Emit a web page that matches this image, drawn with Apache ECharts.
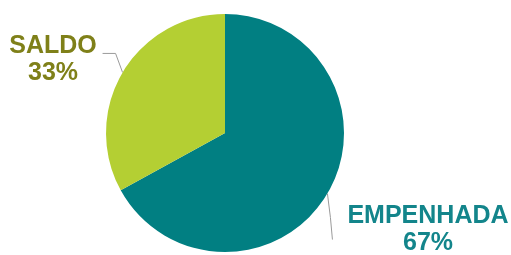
<!DOCTYPE html>
<html>
<head>
<meta charset="UTF-8">
<title>pie</title>
<script src="https://cdn.jsdelivr.net/npm/echarts@6/dist/echarts.min.js"></script>
<style>
  html, body { margin: 0; padding: 0; background: #fff; }
  #main { width: 511px; height: 255px; }
</style>
</head>
<body>
<div id="main"></div>
<script type="text/javascript">
    // dados
    var categorias = ['EMPENHADA', 'SALDO'];
    var valores = [67, 33];
    var cores = ['#017f82', '#b4cf33'];
    var coresTexto = ['#13858b', '#7f8019'];
    // posicao dos rotulos (centro do bloco de texto)
    var posRotulos = [[428, 230], [53, 60]];

    var dados = [];
    for (var i = 0; i < categorias.length; i++) {
        dados.push({
            name: categorias[i],
            value: valores[i],
            itemStyle: { color: cores[i] },
            label: { color: coresTexto[i] }
        });
    }

    var myChart = echarts.init(document.getElementById('main'));
    var option = {
        animation: false,
        series: [{
            type: 'pie',
            center: [225, 133],
            radius: 119,
            startAngle: 90,
            clockwise: true,
            percentPrecision: 0,
            data: dados,
            label: {
                show: true,
                position: 'outside',
                formatter: '{b}\n{d}%',
                fontFamily: 'Liberation Sans, Arial, sans-serif',
                fontWeight: 'bold',
                fontSize: 25,
                lineHeight: 27,
                align: 'center',
                overflow: 'none',
                width: 200
            },
            labelLine: {
                show: true,
                lineStyle: { color: '#9a9a9a', width: 1 }
            },
            labelLayout: function (params) {
                var p = posRotulos[params.dataIndex];
                var p0 = params.labelLinePoints ? params.labelLinePoints[0] : [0, 0];
                var pts;
                if (params.dataIndex === 1) {
                    // SALDO: sobe e depois horizontal para a esquerda
                    pts = [p0, [p0[0] - 7, p0[1] - 19], [p0[0] - 20, p0[1] - 19]];
                } else {
                    // EMPENHADA: quase vertical para baixo
                    pts = [p0, [p0[0] + 3, p0[1] + 24], [p0[0] + 5, p0[1] + 46]];
                }
                return {
                    x: p[0],
                    y: p[1],
                    align: 'center',
                    verticalAlign: 'middle',
                    labelLinePoints: pts
                };
            }
        }]
    };
    myChart.setOption(option);
</script>
</body>
</html>
